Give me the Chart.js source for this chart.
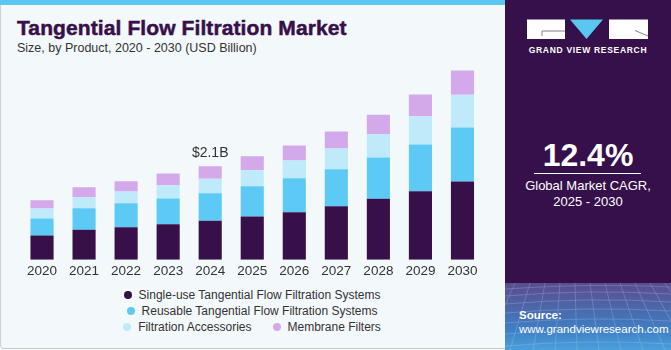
<!DOCTYPE html>
<html>
<head>
<meta charset="utf-8">
<script src="https://cdn.jsdelivr.net/npm/chart.js@4"></script>
<style>
  body { margin: 0; width: 671px; height: 350px; overflow: hidden; background: #fff; font-family: "Liberation Sans", Arial, sans-serif; }
  .frame { position: absolute; left: 0; top: 0; width: 504px; height: 348px; background: #F3F8FB; border-left: 1px solid #cfd3d7; border-bottom: 1px solid #c4c8cc; border-bottom-left-radius: 4px; }
  .stripe { position: absolute; left: 0; top: 0; width: 506px; height: 5px; background: #5BC6EF; }
  .title { position: absolute; left: 17px; top: 17px; font-size: 21px; line-height: 21px; font-weight: bold; color: #37104A; white-space: nowrap; letter-spacing: 0.1px; -webkit-text-stroke: 0.5px #37104A; }
  .subtitle { position: absolute; left: 17px; top: 41.5px; font-size: 12.5px; line-height: 13px; color: #333; white-space: nowrap; }
  #wrap { position: absolute; left: 0; top: 0; width: 505px; height: 282px; }
  #legend { position: absolute; left: 82px; top: 287px; width: 340px; display: flex; flex-wrap: wrap; justify-content: center; column-gap: 21px; }
  #legend .item { display: flex; align-items: center; height: 16px; font-size: 12px; color: #333; white-space: nowrap; }
  #legend .dot { width: 8px; height: 8px; border-radius: 50%; margin-right: 7px; }
  .panel { position: absolute; left: 505px; top: 0; width: 166px; height: 350px; background: #36104A; overflow: hidden; color: #fff; }
  .panel .net { position: absolute; left: 0; top: 283px; width: 166px; height: 67px; background: linear-gradient(#5a4c8e, #3f7fc4 70%, #4aa0dc); }
  .grvr { position: absolute; left: 0; top: 45px; width: 166px; text-align: center; font-size: 8.5px; font-weight: bold; letter-spacing: 0.7px; line-height: 10px; }
  .big { position: absolute; left: 0; top: 139px; width: 166px; text-align: center; font-size: 32px; line-height: 32px; font-weight: bold; }
  .rule { position: absolute; left: 29px; top: 173px; width: 107px; height: 1px; background: #fff; }
  .cagr { position: absolute; left: 0; top: 178px; width: 166px; text-align: center; font-size: 13px; line-height: 16px; }
  .src { position: absolute; left: 14px; top: 308px; font-size: 11.5px; line-height: 14px; }
</style>
</head>
<body>
<div class="frame"></div>
<div class="stripe"></div>
<div class="title">Tangential Flow Filtration Market</div>
<div class="subtitle">Size, by Product, 2020 - 2030 (USD Billion)</div>
<div id="wrap"><canvas id="chart" width="505" height="282"></canvas></div>
<div id="legend"></div>

<div class="panel">
  <svg style="position:absolute;left:0;top:0" width="166" height="60">
    <rect x="22" y="19.5" width="38" height="19.5" fill="#fff"/>
    <polyline points="37,36 37,31 60,31" fill="none" stroke="#8a7a96" stroke-width="1"/>
    <polygon points="65,19.5 98,19.5 81.5,39" fill="#5BC6EF"/>
    <rect x="104" y="19.5" width="39" height="19.5" fill="#fff"/>
    <line x1="130" y1="30.5" x2="143" y2="36" stroke="#8a7a96" stroke-width="1"/>
  </svg>
  <div class="grvr">GRAND VIEW RESEARCH</div>
  <div class="big">12.4%</div>
  <div class="rule"></div>
  <div class="cagr">Global Market CAGR,<br>2025 - 2030</div>
  <div class="net">
    <svg width="166" height="67" style="opacity:0.35">
      <g stroke="#c9d8f2" stroke-width="0.7" fill="none">
        <path d="M0,6 Q83,0 166,4"/><path d="M0,13 Q83,6 166,11"/><path d="M0,21 Q83,14 166,19"/>
        <path d="M0,30 Q83,23 166,28"/><path d="M0,40 Q83,33 166,38"/><path d="M0,51 Q83,44 166,49"/>
        <path d="M0,63 Q83,56 166,61"/>
        <path d="M10,0 L-20,67"/><path d="M25,0 L5,67"/><path d="M40,0 L28,67"/><path d="M55,0 L50,67"/>
        <path d="M70,0 L72,67"/><path d="M85,0 L94,67"/><path d="M100,0 L116,67"/><path d="M115,0 L138,67"/>
        <path d="M130,0 L160,67"/><path d="M145,0 L182,67"/><path d="M160,0 L204,67"/>
      </g>
    </svg>
    <div class="src" style="top:25px"><b>Source:</b><br>www.grandviewresearch.com</div>
  </div>
</div>

<script>
const categories = ['2020', '2021', '2022', '2023', '2024', '2025', '2026', '2027', '2028', '2029', '2030'];
const seriesNames = [
  'Single-use Tangential Flow Filtration Systems',
  'Reusable Tangential Flow Filtration Systems',
  'Filtration Accessories',
  'Membrane Filters'
];
const singleUse   = [0.545, 0.673, 0.731, 0.798, 0.874, 0.971, 1.067, 1.202, 1.368, 1.538, 1.756];
const reusable    = [0.381, 0.484, 0.538, 0.576, 0.619, 0.679, 0.762, 0.830, 0.926, 1.047, 1.211];
const accessories = [0.224, 0.247, 0.262, 0.298, 0.323, 0.359, 0.397, 0.464, 0.522, 0.635, 0.733];
const membranes   = [0.186, 0.224, 0.231, 0.262, 0.283, 0.314, 0.336, 0.381, 0.435, 0.487, 0.545];
const colors = ['#37104A', '#5DCAF5', '#BEEAFA', '#D4A9EC'];
const calloutYear = '2024';

const allSeries = [singleUse, reusable, accessories, membranes];

// total label over one bar
const calloutPlugin = {
  id: 'callout',
  afterDatasetsDraw(chart) {
    const i = categories.indexOf(calloutYear);
    const total = allSeries.reduce((s, arr) => s + arr[i], 0);
    const meta = chart.getDatasetMeta(chart.data.datasets.length - 1);
    const bar = meta.data[i];
    const c = chart.ctx;
    c.save();
    c.font = '14px "Liberation Sans", Arial, sans-serif';
    c.fillStyle = '#333';
    c.textAlign = 'center';
    c.textBaseline = 'alphabetic';
    c.fillText('$' + total.toFixed(1) + 'B', bar.x, bar.y - 9);
    c.restore();
  }
};

const ctx = document.getElementById('chart').getContext('2d');
const chart = new Chart(ctx, {
  type: 'bar',
  data: {
    labels: categories,
    datasets: allSeries.map((d, k) => ({
      label: seriesNames[k],
      data: d,
      backgroundColor: colors[k],
      borderWidth: 0,
      categoryPercentage: 1,
      barPercentage: 0.55
    }))
  },
  options: {
    responsive: false,
    animation: false,
    layout: { padding: { left: 21, right: 21.5, top: 60, bottom: 0 } },
    plugins: { legend: { display: false }, tooltip: { enabled: false } },
    scales: {
      x: {
        stacked: true,
        grid: { display: false, drawTicks: false },
        border: { display: false },
        ticks: { color: '#333', padding: 3, font: { size: 13.5, family: '"Liberation Sans", Arial, sans-serif' } }
      },
      y: { stacked: true, display: false, min: 0, max: 4.48 }
    }
  },
  plugins: [calloutPlugin]
});

// html legend built from the chart datasets
const legendBox = document.getElementById('legend');
chart.data.datasets.forEach(ds => {
  const item = document.createElement('div');
  item.className = 'item';
  item.innerHTML = '<span class="dot" style="background:' + ds.backgroundColor + '"></span>' + ds.label;
  legendBox.appendChild(item);
});
</script>
</body>
</html>
